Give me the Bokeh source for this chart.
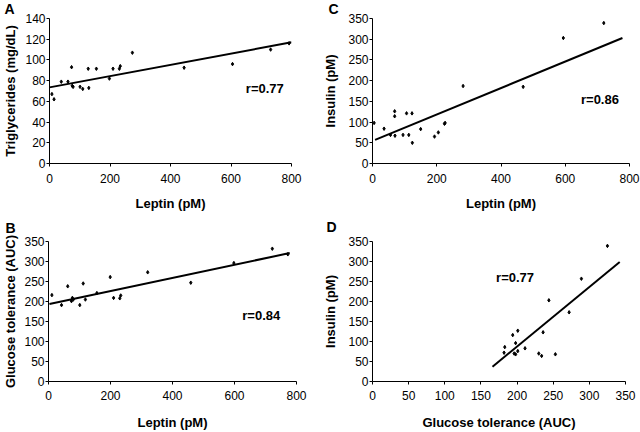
from bokeh.plotting import figure
from bokeh.layouts import column, row
from bokeh.models import Range1d, FixedTicker, Label
from bokeh.embed import file_html
from bokeh.resources import INLINE

# ---- Panel A: Leptin vs Triglycerides ----
a_leptin = [8, 15, 39, 61, 73, 75, 78, 101, 110, 128, 130, 155, 198, 210, 231, 234, 274, 445, 605, 731, 792]
a_trig = [67, 62, 79, 79, 93, 75, 74, 74, 72, 91.5, 73, 91.5, 82, 91.5, 91.5, 94, 107, 92.5, 96, 110, 116]
a_fit_x = [0, 800]
a_fit_y = [73.5, 117]

# ---- Panel B: Leptin vs Glucose tolerance ----
b_leptin = [11, 42, 62, 74, 77, 80, 101, 112, 119, 156, 199, 210, 230, 233, 320, 459, 598, 722, 772]
b_gluc = [216, 191, 238, 201, 209, 205, 191, 245, 205, 221, 261, 209, 208, 215, 273, 247, 296, 332, 318]
b_fit_x = [3, 778]
b_fit_y = [194, 321]

# ---- Panel C: Leptin vs Insulin ----
c_leptin = [5, 36, 56, 69, 69, 70, 95, 106, 113, 123, 124, 150, 193, 205, 224, 226, 282, 469, 594, 720]
c_ins = [98, 84, 69, 126, 114, 67, 69, 121, 69, 121, 50, 83, 65, 75, 96, 98, 187, 185, 303, 339]
c_fit_x = [8, 778]
c_fit_y = [57, 303]

# ---- Panel D: Glucose tolerance vs Insulin ----
d_gluc = [183, 182, 194, 201, 198, 196, 198, 201, 211, 230, 234, 236, 244, 253, 272, 289, 325]
d_ins = [86, 72, 116, 127, 96, 70, 68, 76, 83, 70, 64, 123, 203, 68, 173, 257, 339]
d_fit_x = [166, 342]
d_fit_y = [37, 299]

FONT = "Liberation Sans"


def panel(xs, ys, fx, fy, xmax, ymax, xstep, ystep, xlabel, ylabel,
          rtext, rx, ry, letter, l_off, l_standoff, w, h, borders,
          x_lab_standoff, y_lab_standoff):
    p = figure(width=w, height=h, output_backend="svg", toolbar_location=None,
               x_range=Range1d(0, xmax), y_range=Range1d(0, ymax),
               min_border_left=borders[0], min_border_right=borders[1],
               min_border_top=borders[2], min_border_bottom=borders[3])
    p.outline_line_color = None
    p.grid.visible = False
    p.background_fill_color = "white"
    p.border_fill_color = "white"
    p.title.text = letter
    p.title.text_font = FONT
    p.title.text_font_style = "bold"
    p.title.text_font_size = "14px"
    p.title.text_color = "black"
    p.title.align = "left"
    p.title.vertical_align = "top"
    p.title.offset = l_off
    p.title.standoff = l_standoff
    for ax, step, mx, lab in ((p.xaxis, xstep, xmax, xlabel), (p.yaxis, ystep, ymax, ylabel)):
        ax.ticker = FixedTicker(ticks=list(range(0, mx + 1, step)))
        ax.axis_label = lab
        ax.axis_label_text_font = FONT
        ax.axis_label_text_font_style = "bold"
        ax.axis_label_text_font_size = "13px"
        ax.axis_label_text_color = "black"
        ax.major_label_text_font = FONT
        ax.major_label_text_font_size = "12px"
        ax.major_label_text_color = "black"
        ax.axis_line_color = "black"
        ax.major_tick_line_color = "black"
        ax.major_tick_out = 3
        ax.major_tick_in = 0
        ax.minor_tick_line_color = None
    p.xaxis.major_label_standoff = 7 if h < 215 else 6
    p.xaxis.axis_label_standoff = x_lab_standoff
    p.yaxis.major_label_standoff = 1
    p.yaxis.axis_label_standoff = y_lab_standoff
    p.line(fx, fy, line_color="black", line_width=2)
    p.scatter(xs, ys, marker="diamond", size=3.5, color="black")
    p.add_layout(Label(x=rx, y=ry, text=rtext, text_font=FONT, text_font_style="bold",
                       text_font_size="13px", text_color="black",
                       text_baseline="middle", text_align="left"))
    return p


pA = panel(a_leptin, a_trig, a_fit_x, a_fit_y, 800, 140, 200, 20,
           "Leptin (pM)", "Triglycerides (mg/dL)", "r=0.77", 649, 72,
           "A", -45, 0, 320, 213, (47, 29, 17, 45), 10, 4)
pB = panel(b_leptin, b_gluc, b_fit_x, b_fit_y, 800, 350, 200, 50,
           "Leptin (pM)", "Glucose tolerance (AUC)", "r=0.84", 625, 166,
           "B", -43, 7, 320, 219, (45, 24, 24, 45), 12, 3)
pC = panel(c_leptin, c_ins, c_fit_x, c_fit_y, 800, 350, 200, 50,
           "Leptin (pM)", "Insulin (pM)", "r=0.86", 649, 155,
           "C", -44, 0, 320, 213, (49, 11, 17, 48), 10, 7)
pD = panel(d_gluc, d_ins, d_fit_x, d_fit_y, 350, 350, 50, 50,
           "Glucose tolerance (AUC)", "Insulin (pM)", "r=0.77", 171, 260,
           "D", -46, 10, 320, 219, (51, 15, 27, 45), 12, 7)

layout = column(row(pA, pC), row(pB, pD))

open("out.html", "w").write(file_html(layout, INLINE))
